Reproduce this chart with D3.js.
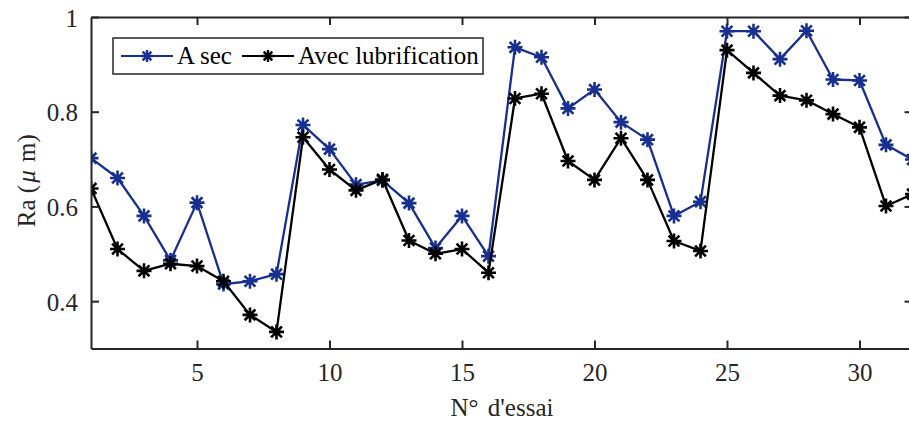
<!DOCTYPE html>
<html>
<head>
<meta charset="utf-8">
<script src="https://cdn.jsdelivr.net/npm/d3@7"></script>
<style>
    body { margin: 0; background: #fff; }
    svg { display: block; }
    svg text { font-family: 'Liberation Serif', 'Times New Roman', serif; }
</style>
</head>
<body>
<svg width="909" height="424"></svg>
<script>
// essai numbers
let trials = d3.range(1, 33);
// Ra values, dry machining
let aSec = [
    0.702, 0.660, 0.580, 0.486, 0.608, 0.436, 0.442, 0.457, 0.772, 0.721,
    0.646, 0.655, 0.607, 0.512, 0.580, 0.495, 0.936, 0.915, 0.807, 0.847,
    0.778, 0.741, 0.580, 0.610, 0.970, 0.970, 0.911, 0.971, 0.868, 0.866,
    0.730, 0.699
];
// Ra values, with lubrication
let avecLub = [
    0.638, 0.510, 0.464, 0.479, 0.474, 0.442, 0.371, 0.335, 0.746, 0.678,
    0.634, 0.657, 0.528, 0.500, 0.510, 0.460, 0.828, 0.838, 0.696, 0.656,
    0.744, 0.656, 0.527, 0.506, 0.930, 0.882, 0.834, 0.824, 0.795, 0.767,
    0.601, 0.626
];
let xTicks = [5, 10, 15, 20, 25, 30];
let yTicks = [0.4, 0.6, 0.8, 1];
let seriesNames = ['A sec', 'Avec lubrification'];
let seriesColors = ['#172f8e', '#000000'];

function main() {
    let svg = d3.select('svg'),
        margin = { top: 17, left: 91 },
        width = 821.5,
        height = 331.5,
        axisColor = '#262626',
        fontSize = '25px',
        serif = "'Liberation Serif', 'Times New Roman', serif";

    //Scales
    let xScale = d3.scaleLinear().domain([1, 32]).range([margin.left, margin.left + width]),
        yScale = d3.scaleLinear().domain([0.3, 1]).range([margin.top + height, margin.top]);

    //Clip to the axes box
    svg.append('clipPath')
        .attr('id', 'plotclip')
        .append('rect')
        .attr('x', margin.left)
        .attr('y', margin.top - 10)
        .attr('width', width + 10)
        .attr('height', height + 10);

    //Asterisk marker path
    function star(r) {
        let d = r * 0.72;
        return 'M' + -r + ',0L' + r + ',0M0,' + -r + 'L0,' + r +
            'M' + -d + ',' + -d + 'L' + d + ',' + d +
            'M' + -d + ',' + d + 'L' + d + ',' + -d;
    }

    let series = [aSec, avecLub];
    let line = d3.line()
        .x((d, i) => xScale(trials[i]))
        .y((d) => yScale(d));

    //Lines and markers
    series.forEach((vals, s) => {
        let g = svg.append('g').attr('clip-path', 'url(#plotclip)');
        g.append('path')
            .datum(vals)
            .attr('fill', 'none')
            .attr('stroke', seriesColors[s])
            .attr('stroke-width', 2.3)
            .attr('stroke-linejoin', 'round')
            .attr('d', line);
        g.selectAll('path.mk')
            .data(vals)
            .enter()
            .append('path')
            .attr('class', 'mk')
            .attr('transform', (d, i) => 'translate(' + xScale(trials[i]) + ',' + yScale(d) + ')')
            .attr('d', star(7.5))
            .attr('fill', 'none')
            .attr('stroke', seriesColors[s])
            .attr('stroke-width', 2.6);
    });

    //Axes box
    let x0 = margin.left, x1 = margin.left + width,
        y0 = margin.top, y1 = margin.top + height;

    //Bottom axis
    let xAxis = svg.append('g')
        .attr('transform', 'translate(0,' + y1 + ')')
        .call(d3.axisBottom(xScale).tickValues(xTicks).tickSizeInner(-8).tickSizeOuter(0).tickPadding(15));
    //Top axis
    let xTop = svg.append('g')
        .attr('transform', 'translate(0,' + y0 + ')')
        .call(d3.axisTop(xScale).tickValues(xTicks).tickSizeInner(-8).tickSizeOuter(0).tickFormat(''));
    //Left axis
    let yAxis = svg.append('g')
        .attr('transform', 'translate(' + x0 + ',0)')
        .call(d3.axisLeft(yScale).tickValues(yTicks).tickSizeInner(-8).tickSizeOuter(0).tickPadding(13)
            .tickFormat(d3.format('')));
    //Right axis
    let yRight = svg.append('g')
        .attr('transform', 'translate(' + x1 + ',0)')
        .call(d3.axisRight(yScale).tickValues(yTicks).tickSizeInner(-8).tickSizeOuter(0).tickFormat(''));

    [xAxis, xTop, yAxis, yRight].forEach((a) => {
        a.attr('font-family', serif);
        a.select('.domain').attr('stroke', axisColor).attr('stroke-width', 2);
        a.selectAll('.tick line').attr('stroke', axisColor).attr('stroke-width', 2);
        a.selectAll('.tick text')
            .attr('fill', axisColor)
            .style('font-family', serif)
            .style('font-size', fontSize);
    });
    yAxis.selectAll('.tick text').attr('dy', '0.36em');

    //X label
    svg.append('text')
        .attr('x', 502)
        .attr('y', 416)
        .attr('text-anchor', 'middle')
        .attr('fill', axisColor)
        .style('font-family', serif)
        .style('font-size', fontSize)
        .style('word-spacing', '3px')
        .text('N° d\'essai');

    //Y label
    let yl = svg.append('text')
        .attr('transform', 'translate(35,' + ((y0 + y1) / 2 - 2) + ') rotate(-90)')
        .attr('text-anchor', 'middle')
        .attr('fill', axisColor)
        .style('font-family', serif)
        .style('font-size', fontSize);
    yl.append('tspan').text('Ra (');
    yl.append('tspan').attr('dx', 2).style('font-style', 'italic').text('μ');
    yl.append('tspan').attr('dx', 2).text(' m)');

    //Legend
    let legend = svg.append('g').attr('transform', 'translate(113,38)');
    legend.append('rect')
        .attr('width', 370)
        .attr('height', 36)
        .attr('fill', '#fff')
        .attr('stroke', axisColor)
        .attr('stroke-width', 1.5);
    let itemX = [8, 129];
    seriesNames.forEach((name, s) => {
        let gi = legend.append('g').attr('transform', 'translate(' + itemX[s] + ',18)');
        gi.append('line')
            .attr('x1', 0).attr('x2', 52)
            .attr('stroke', seriesColors[s])
            .attr('stroke-width', 2.2);
        gi.append('path')
            .attr('transform', 'translate(26,0)')
            .attr('d', star(6))
            .attr('fill', 'none')
            .attr('stroke', seriesColors[s])
            .attr('stroke-width', 2.4);
        gi.append('text')
            .attr('x', 56)
            .attr('y', 8)
            .attr('fill', '#000')
            .style('font-family', serif)
            .style('font-size', fontSize)
            .text(name);
    });
}

main();
</script>
</body>
</html>
